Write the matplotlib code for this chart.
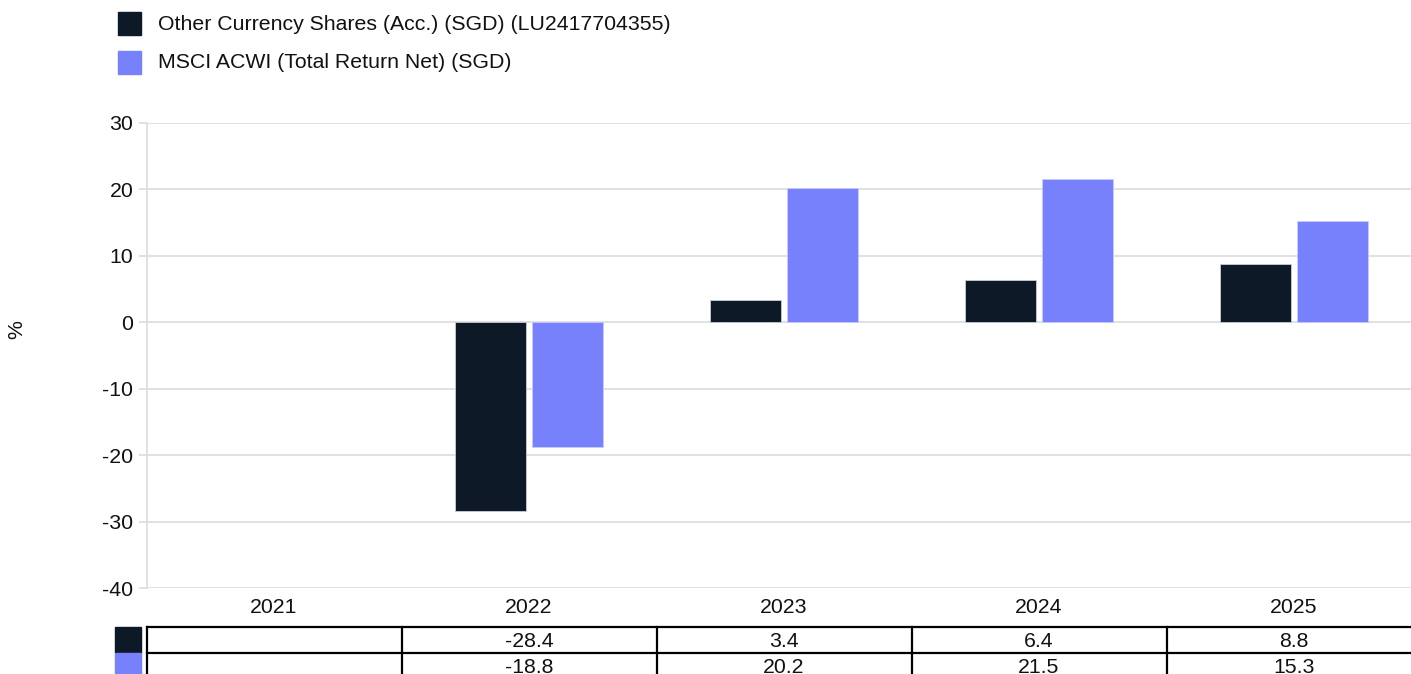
import matplotlib.pyplot as plt
import numpy as np

plt.rcParams['font.family'] = ['Liberation Sans', 'DejaVu Sans']
plt.rcParams['axes.unicode_minus'] = False

years = ['2021', '2022', '2023', '2024', '2025']
fund = [np.nan, -28.4, 3.4, 6.4, 8.8]
index = [np.nan, -18.8, 20.2, 21.5, 15.3]
series_names = ['Other Currency Shares (Acc.) (SGD) (LU2417704355)',
                'MSCI ACWI (Total Return Net) (SGD)']
colors = ['#0e1927', '#7881fc']
fs = 15.3

W, H = 1411, 674
fig = plt.figure(figsize=(W / 100, H / 100), dpi=100)

# main axes (extends slightly past right edge like the original)
x0, x1 = 146.5, 1421.5
ax = fig.add_axes([x0 / W, 1 - 588 / H, (x1 - x0) / W, (588 - 123) / H])
x = np.arange(len(years))
bw = 0.28
ax.bar(x - 0.152, fund, bw, color=colors[0], edgecolor='#c8ccd8', linewidth=0.6, zorder=3)
ax.bar(x + 0.152, index, bw, color=colors[1], edgecolor='#c8ccff', linewidth=0.6, zorder=3)

ax.set_xlim(-0.5, len(years) - 0.5)
ax.set_ylim(-40, 30)
ax.set_yticks(range(-40, 31, 10))
ax.yaxis.grid(True, color='#dcdcdc', linewidth=1.2, zorder=0)
for s in ['top', 'right', 'bottom']:
    ax.spines[s].set_visible(False)
ax.spines['left'].set_color('#dcdcdc')
ax.spines['left'].set_linewidth(1.2)
ax.tick_params(axis='y', colors='#dcdcdc', labelcolor='#111111', labelsize=fs, length=6, width=1.2)
ax.set_xticks(x)
ax.set_xticklabels(years, fontsize=fs, color='#111111')
ax.tick_params(axis='x', length=0, pad=7)
ax.set_ylabel('%', fontsize=fs, color='#111111')
ax.yaxis.set_label_coords(26 / W, 1 - 330 / H, transform=fig.transFigure)

# data table below the axes
row_h = 26
tax = fig.add_axes([x0 / W, 1 - (627 + 2 * row_h) / H, (x1 - x0) / W, 2 * row_h / H])
tax.set_xlim(-0.5, len(years) - 0.5)
tax.set_ylim(2, 0)
tax.axis('off')
for r in range(3):
    tax.axhline(r, color='black', linewidth=1.6, clip_on=False)
for c in range(len(years) + 1):
    tax.axvline(c - 0.5, color='black', linewidth=1.6, clip_on=False)
for r, vals in enumerate([fund, index]):
    for c, v in enumerate(vals):
        if not np.isnan(v):
            tax.text(c, r + 0.55, f'{v:.1f}', ha='center', va='center', fontsize=fs, color='#111111')
    fig.patches.append(plt.Rectangle((115 / W, 1 - (627 + (r + 1) * row_h) / H), 26 / W, row_h / H,
                                     transform=fig.transFigure, color=colors[r]))

# legend at top
for i, name in enumerate(series_names):
    ytop = 12 + i * 39
    fig.patches.append(plt.Rectangle((118 / W, 1 - (ytop + 23) / H), 23 / W, 23 / H,
                                     transform=fig.transFigure, color=colors[i]))
    fig.text(158 / W, 1 - (ytop + 12) / H, name, fontsize=fs, va='center', ha='left', color='#111111')

fig.savefig('out.png', dpi=100)
